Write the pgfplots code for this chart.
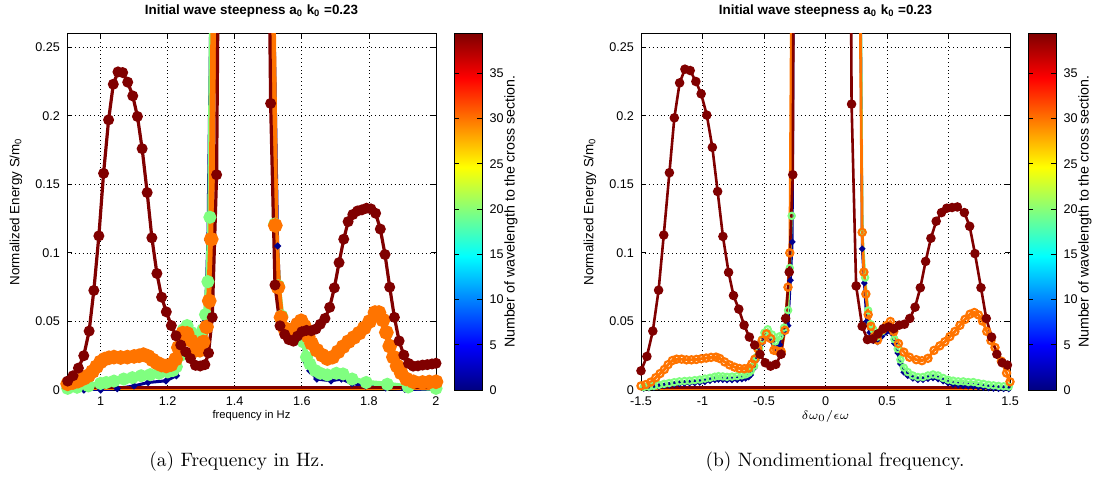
\documentclass[border=0pt]{standalone}
\usepackage{fontspec}
\setsansfont{Liberation Sans}
\usepackage{pgfplots}
\pgfplotsset{compat=1.18}

\definecolor{sdark}{RGB}{128,0,0}
\definecolor{sorange}{RGB}{255,116,0}
\definecolor{sgreen}{RGB}{128,255,128}
\definecolor{sblue}{RGB}{0,0,143}

\newcommand{\ticksize}{\sffamily\fontsize{6.3}{7}\selectfont}

\pgfplotsset{
  specax/.style={
    scale only axis, width=184.5pt, height=178.25pt,
    ymin=0, ymax=0.26,
    ytick={0,0.05,0.1,0.15,0.2,0.25},
    yticklabels={0,0.05,0.1,0.15,0.2,0.25},
    grid=major,
    major grid style={black, line width=0.35pt, dash pattern=on 0.35pt off 1.6pt},
    tick align=inside, major tick length=2.5pt,
    tick style={black, line width=0.4pt},
    axis line style={line width=0.4pt},
    tick label style={font=\ticksize},
    title style={font=\sffamily\bfseries\fontsize{6.7}{8}\selectfont, at={(0.5,1)}, anchor=center, yshift=5.25pt},
    ylabel style={font=\sffamily\fontsize{6.7}{8}\selectfont, at={(axis description cs:-0.1382,0.5)}, anchor=center},
    xlabel style={font=\sffamily\fontsize{5.6}{7}\selectfont, at={(axis description cs:0.5,0)}, anchor=center, yshift=-13pt},
    title={Initial wave steepness a\textsubscript{0} k\textsubscript{0} =0.23},
    ylabel={Normalized Energy S/m\textsubscript{0}},
    colormap/jet, point meta min=0, point meta max=39.4,
    colorbar,
    colorbar style={
      scale only axis, width=14pt,
      at={(parent axis.north east)}, anchor=north west, xshift=0.7pt,
      ytick={0,5,10,15,20,25,30,35},
      yticklabels={0,5,10,15,20,25,30,35},
      tick align=inside, major tick length=2.5pt,
      yticklabel style={font=\ticksize},
      ylabel={Number of wavelength to the cross section.},
      ylabel style={font=\sffamily\fontsize{7.1}{8}\selectfont, at={(axis description cs:2.02,0.5)}, anchor=center},
    },
  },
  dred/.style={color=sdark, line width=1.6pt, mark=*, mark size=1.9pt, mark options={solid}},
}

\begin{document}
\begin{tikzpicture}[x=1pt,y=1pt]
\path[use as bounding box] (0,0) rectangle (551,239.5);

% ---------- (a) spectra against frequency in Hz ----------
\begin{axis}[specax, at={(33.5pt,44.5pt)}, anchor=south west,
  xmin=0.9, xmax=2,
  xtick={1,1.2,1.4,1.6,1.8,2}, xticklabels={1,1.2,1.4,1.6,1.8,2},
  xlabel={frequency in Hz}]

% section near the wave maker
\addplot[color=sblue, line width=1.5pt, mark=*, mark size=0.8pt] coordinates {
(0.902,0.0) (0.95,0.0) (1.0,0.0) (1.05,0.001) (1.1,0.003) (1.142,0.0055)
(1.195,0.0067) (1.226,0.0104) (1.242,0.029) (1.255,0.042) (1.27,0.039)
(1.285,0.035) (1.3,0.037) (1.312,0.05) (1.32,0.109) (1.33,0.3) (1.36,1.0)
(1.42,4.5) (1.49,1.0) (1.515,0.3) (1.528,0.105) (1.538,0.05) (1.55,0.04)
(1.566,0.037) (1.582,0.035) (1.596,0.037) (1.603,0.034) (1.614,0.02)
(1.624,0.014) (1.645,0.008) (1.687,0.0067) (1.718,0.008) (1.75,0.0047)
(1.79,0.003) (1.85,0.0015) (1.907,0.0005) (2.0,0.0)};

% section at about twenty wavelengths
\addplot[color=sgreen, line width=2.6pt, mark=*, mark size=1.9pt] coordinates {
(0.902,0.0012) (0.93,0.002) (0.964,0.003) (1.0,0.0048) (1.017,0.0055)
(1.04,0.0065) (1.069,0.008) (1.095,0.009) (1.121,0.0104) (1.148,0.0112)
(1.174,0.0122) (1.2,0.0132) (1.216,0.0142) (1.226,0.017) (1.236,0.025)
(1.247,0.044) (1.258,0.047) (1.27,0.042) (1.282,0.038) (1.294,0.038)
(1.305,0.044) (1.313,0.055) (1.32,0.079) (1.326,0.126) (1.332,0.3)
(1.36,1.0) (1.42,4.5) (1.49,1.0) (1.512,0.3) (1.519,0.121) (1.53,0.076)
(1.54,0.054) (1.551,0.044) (1.566,0.0415) (1.582,0.039) (1.596,0.039)
(1.605,0.035) (1.614,0.024) (1.624,0.019) (1.64,0.0142) (1.655,0.0122)
(1.676,0.011) (1.703,0.0122) (1.723,0.0117) (1.75,0.008) (1.792,0.0055)
(1.855,0.0042) (1.917,0.0022) (2.0,0.0012)};

% flat reference levels along the bottom
\addplot[color=sorange, line width=0.9pt] coordinates {(0.9,0.0003) (2,0.0003)};
\addplot[color=sdark, line width=1.7pt] coordinates {(0.9,0.0018) (2,0.0018)};

% section at about thirty wavelengths
\addplot[color=sorange, line width=3pt, mark=*, mark size=2.1pt] coordinates {
(0.902,0.0045) (0.918,0.0055) (0.933,0.0065) (0.95,0.0085) (0.964,0.0105)
(0.976,0.0135) (0.988,0.017) (1.0,0.0205) (1.012,0.0225) (1.025,0.0235)
(1.04,0.024) (1.06,0.0237) (1.08,0.024) (1.10,0.0245) (1.115,0.025)
(1.128,0.0258) (1.142,0.0245) (1.155,0.022) (1.168,0.0198) (1.182,0.0182)
(1.196,0.0175) (1.21,0.0185) (1.224,0.0225) (1.232,0.031) (1.245,0.0415)
(1.258,0.0413) (1.27,0.036) (1.284,0.029) (1.296,0.029) (1.306,0.035)
(1.316,0.046) (1.324,0.065) (1.330,0.11) (1.338,0.3) (1.36,1.0) (1.42,4.5)
(1.49,1.0) (1.512,0.3) (1.521,0.12) (1.529,0.075) (1.538,0.053) (1.548,0.045)
(1.56,0.0425) (1.572,0.044) (1.587,0.048) (1.598,0.0505) (1.608,0.0465)
(1.619,0.039) (1.629,0.034) (1.645,0.029) (1.661,0.0254) (1.676,0.0229)
(1.692,0.024) (1.708,0.0279) (1.723,0.0316) (1.739,0.0353) (1.755,0.0383)
(1.771,0.0415) (1.786,0.0453) (1.802,0.050) (1.818,0.0565) (1.83,0.0565)
(1.842,0.051) (1.852,0.042) (1.862,0.032) (1.873,0.024) (1.884,0.0175)
(1.896,0.0125) (1.912,0.008) (1.933,0.006) (1.96,0.0055) (1.98,0.0058)
(2.0,0.006)};

% section furthest from the wave maker
\addplot[dred] coordinates {
(0.902,0.0065) (0.918,0.0104) (0.934,0.016) (0.950,0.025) (0.966,0.043)
(0.980,0.0726) (0.995,0.1124) (1.009,0.158) (1.024,0.197) (1.038,0.223)
(1.052,0.232) (1.066,0.2315) (1.081,0.2245) (1.096,0.2145) (1.110,0.1995)
(1.124,0.176) (1.139,0.144) (1.153,0.111) (1.168,0.085) (1.182,0.0677)
(1.196,0.057) (1.211,0.047) (1.225,0.0395) (1.239,0.0328) (1.254,0.0278)
(1.268,0.023) (1.283,0.018) (1.297,0.0175) (1.311,0.0185) (1.322,0.027)
(1.333,0.053) (1.346,0.157) (1.36,0.6) (1.38,2.0) (1.42,4.0) (1.46,2.0)
(1.49,0.6) (1.507,0.209) (1.520,0.0766) (1.535,0.0468) (1.549,0.0405)
(1.561,0.0368) (1.575,0.0356) (1.587,0.0393) (1.600,0.0425) (1.614,0.0435)
(1.628,0.0432) (1.642,0.0445) (1.655,0.048) (1.669,0.0522) (1.683,0.0603)
(1.697,0.0745) (1.711,0.0929) (1.725,0.110) (1.738,0.1228) (1.752,0.128)
(1.766,0.1306) (1.779,0.1314) (1.793,0.1326) (1.806,0.1321) (1.820,0.1289)
(1.834,0.1174) (1.848,0.0988) (1.862,0.075) (1.876,0.053) (1.890,0.0358)
(1.904,0.0255) (1.918,0.0194) (1.932,0.0174) (1.946,0.0176) (1.960,0.0182)
(1.974,0.0185) (1.988,0.019) (2.0,0.0195)};
\end{axis}

% ---------- (b) spectra against nondimensional frequency ----------
\begin{axis}[specax, at={(320.5pt,44.5pt)}, anchor=south west,
  xmin=-1.5, xmax=1.5,
  xtick={-1.5,-1,-0.5,0,0.5,1,1.5}, xticklabels={-1.5,-1,-0.5,0,0.5,1,1.5},
  xlabel={$\delta\omega_0/\epsilon\omega$}]

\addplot[color=sblue, line width=1.3pt, mark=*, mark size=0.8pt] coordinates {
(-1.52,0.001) (-1.478,0.0012) (-1.436,0.0015) (-1.395,0.002) (-1.354,0.0025)
(-1.312,0.003) (-1.271,0.0035) (-1.23,0.004) (-1.188,0.0045) (-1.146,0.0048)
(-1.105,0.005) (-1.063,0.0052) (-1.022,0.0055) (-0.98,0.006) (-0.939,0.0068)
(-0.9,0.0074) (-0.87,0.0078) (-0.835,0.0075) (-0.801,0.0073) (-0.76,0.0073)
(-0.718,0.0075) (-0.68,0.008) (-0.649,0.0085) (-0.625,0.0095) (-0.608,0.011)
(-0.58,0.016) (-0.56,0.022) (-0.539,0.028) (-0.515,0.034) (-0.497,0.038)
(-0.47,0.040) (-0.436,0.0355) (-0.409,0.031) (-0.373,0.033) (-0.337,0.042)
(-0.304,0.047) (-0.285,0.08) (-0.27,0.108) (-0.25,0.5) (-0.1,4) (0.1,4)
(0.27,0.5) (0.298,0.103) (0.315,0.078) (0.335,0.05) (0.36,0.042) (0.39,0.036)
(0.423,0.035) (0.456,0.039) (0.492,0.042) (0.533,0.042) (0.56,0.034)
(0.587,0.027) (0.609,0.019) (0.637,0.013) (0.669,0.0105) (0.71,0.0085)
(0.751,0.0075) (0.792,0.0075) (0.833,0.0083) (0.874,0.0088) (0.915,0.008)
(0.956,0.0065) (0.997,0.005) (1.038,0.004) (1.079,0.0035) (1.12,0.003)
(1.161,0.0028) (1.202,0.0025) (1.243,0.0022) (1.284,0.0018) (1.325,0.0015)
(1.366,0.0012) (1.407,0.001) (1.448,0.0009) (1.49,0.0008) (1.52,0.0008)};

\addplot[color=sgreen, line width=1.2pt, mark=o, mark size=1.6pt, mark options={line width=1pt}] coordinates {
(-1.52,0.0018) (-1.478,0.0022) (-1.436,0.0025) (-1.395,0.003) (-1.354,0.0038)
(-1.312,0.0045) (-1.271,0.0051) (-1.23,0.0057) (-1.188,0.0063) (-1.146,0.0066)
(-1.105,0.0068) (-1.063,0.0072) (-1.022,0.0076) (-0.98,0.0083) (-0.939,0.0089)
(-0.9,0.0097) (-0.87,0.0101) (-0.835,0.0099) (-0.801,0.0096) (-0.76,0.0098)
(-0.718,0.0101) (-0.68,0.0107) (-0.649,0.0114) (-0.625,0.0125) (-0.608,0.0139)
(-0.58,0.0177) (-0.56,0.024) (-0.539,0.0304) (-0.515,0.037) (-0.497,0.0418)
(-0.47,0.0443) (-0.436,0.0405) (-0.409,0.0354) (-0.373,0.0392) (-0.337,0.0455)
(-0.304,0.0582) (-0.29,0.089) (-0.275,0.127) (-0.26,0.5) (-0.15,4) (0.1,4)
(0.27,0.5) (0.3,0.115) (0.322,0.082) (0.347,0.058) (0.368,0.048) (0.39,0.044)
(0.423,0.039) (0.456,0.0427) (0.492,0.0465) (0.533,0.0457) (0.56,0.037)
(0.587,0.030) (0.609,0.0221) (0.637,0.0163) (0.669,0.0131) (0.71,0.0106)
(0.751,0.0095) (0.792,0.0095) (0.833,0.0106) (0.874,0.0113) (0.915,0.0106)
(0.956,0.0088) (0.997,0.0075) (1.038,0.0068) (1.079,0.0063) (1.12,0.0063)
(1.161,0.0058) (1.202,0.0058) (1.243,0.005) (1.284,0.0045) (1.325,0.0038)
(1.366,0.0034) (1.407,0.003) (1.448,0.0027) (1.49,0.0025) (1.52,0.0024)};

\addplot[color=sorange, line width=0.9pt] coordinates {(-1.5,0.0003) (1.5,0.0003)};
\addplot[color=sdark, line width=1.7pt] coordinates {(-1.5,0.0018) (1.5,0.0018)};

\addplot[color=sorange, line width=1.4pt, mark=o, mark size=1.8pt, mark options={line width=1.1pt}] coordinates {
(-1.5,0.003) (-1.46,0.004) (-1.42,0.0058) (-1.38,0.009) (-1.345,0.012)
(-1.31,0.015) (-1.28,0.0185) (-1.245,0.0215) (-1.21,0.0225) (-1.17,0.0225)
(-1.13,0.022) (-1.09,0.022) (-1.05,0.0223) (-1.01,0.0228) (-0.97,0.0233)
(-0.93,0.0238) (-0.89,0.024) (-0.86,0.023) (-0.82,0.0205) (-0.78,0.0183)
(-0.74,0.0167) (-0.70,0.0157) (-0.66,0.0155) (-0.625,0.016) (-0.6,0.019)
(-0.575,0.0225) (-0.552,0.0304) (-0.515,0.0362) (-0.48,0.041) (-0.445,0.0375)
(-0.42,0.029) (-0.395,0.0285) (-0.36,0.028) (-0.33,0.0435) (-0.305,0.075)
(-0.29,0.1) (-0.275,0.3) (-0.24,1) (-0.1,4.5) (0.1,4.5) (0.25,1) (0.28,0.3)
(0.298,0.115) (0.312,0.086) (0.328,0.07) (0.347,0.055) (0.369,0.0465)
(0.396,0.039) (0.423,0.0364) (0.464,0.044) (0.495,0.047) (0.527,0.05)
(0.555,0.0427) (0.593,0.0339) (0.637,0.0276) (0.683,0.0239) (0.738,0.0221)
(0.784,0.0214) (0.833,0.0231) (0.882,0.0289) (0.929,0.0322) (0.97,0.0352)
(1.011,0.039) (1.052,0.0427) (1.093,0.0472) (1.134,0.0515) (1.175,0.0553)
(1.21,0.0565) (1.243,0.0548) (1.276,0.0503) (1.311,0.0427) (1.345,0.036)
(1.378,0.031) (1.43,0.021) (1.472,0.0124) (1.5,0.006) (1.52,0.003)};

\addplot[color=sdark, line width=1.3pt, mark=*, mark size=1.7pt] coordinates {
(-1.5,0.014) (-1.452,0.0245) (-1.404,0.043) (-1.357,0.0728) (-1.315,0.113)
(-1.269,0.1585) (-1.229,0.1985) (-1.186,0.224) (-1.143,0.234) (-1.1,0.233)
(-1.054,0.225) (-1.011,0.216) (-0.965,0.2005) (-0.92,0.177) (-0.877,0.1448)
(-0.834,0.112) (-0.788,0.0858) (-0.748,0.0689) (-0.705,0.059) (-0.662,0.0473)
(-0.619,0.0386) (-0.576,0.0328) (-0.533,0.0261) (-0.49,0.0199) (-0.447,0.0174)
(-0.404,0.0187) (-0.361,0.0261) (-0.324,0.0522) (-0.295,0.086) (-0.266,0.157)
(-0.24,0.8) (-0.1,4) (0.05,4) (0.18,0.8) (0.212,0.2085) (0.249,0.0759)
(0.298,0.0465) (0.341,0.0368) (0.384,0.0373) (0.427,0.041) (0.47,0.0448)
(0.513,0.046) (0.556,0.0448) (0.599,0.0473) (0.642,0.048) (0.685,0.0522)
(0.728,0.0604) (0.771,0.0746) (0.814,0.0938) (0.857,0.1107) (0.9,0.1231)
(0.943,0.1294) (0.986,0.1326) (1.029,0.1331) (1.072,0.1335) (1.129,0.1294)
(1.172,0.1194) (1.215,0.0995) (1.264,0.0746) (1.307,0.0522) (1.35,0.0386)
(1.393,0.0261) (1.436,0.0199) (1.479,0.0182) (1.51,0.0165)};
\end{axis}

\node[font=\fontsize{9.7}{11}\selectfont] at (118.5,8.5) {(a) Frequency in Hz.};
\node[font=\fontsize{9.7}{11}\selectfont] at (417.5,8.5) {(b) Nondimentional frequency.};
\end{tikzpicture}
\end{document}
